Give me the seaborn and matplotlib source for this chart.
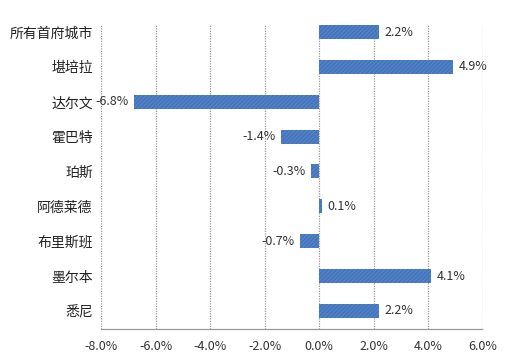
import matplotlib
matplotlib.use("Agg")
import matplotlib.pyplot as plt
import seaborn as sns
import pandas as pd

# Data
cities = ["所有首府城市", "堪培拉", "达尔文", "霍巴特", "珀斯", "阿德莱德", "布里斯班", "墨尔本", "悉尼"]
changes = [2.2, 4.9, -6.8, -1.4, -0.3, 0.1, -0.7, 4.1, 2.2]
x_ticks = [-8.0, -6.0, -4.0, -2.0, 0.0, 2.0, 4.0, 6.0]

df = pd.DataFrame({"city": cities, "change": changes})

sns.set_style("white")
plt.rcParams["font.family"] = ["Noto Sans CJK SC", "DejaVu Sans"]
plt.rcParams["hatch.linewidth"] = 0.5

fig = plt.figure(figsize=(5.11, 3.62), dpi=100)
ax = fig.add_axes([0.198, 0.0912, 0.747, 0.8425])

sns.barplot(data=df, x="change", y="city", orient="h", color="#4576bd",
            width=0.4, ax=ax, saturation=1, zorder=3)
for p in ax.patches:
    p.set_hatch("////////")
    p.set_edgecolor("#5d8ccc")
    p.set_linewidth(0)

# value labels
for i, v in enumerate(changes):
    if v >= 0:
        ax.text(v + 0.2, i, f"{v:.1f}%", va="center", ha="left", fontsize=9, color="#333333")
    else:
        ax.text(v - 0.2, i, f"{v:.1f}%", va="center", ha="right", fontsize=9, color="#333333")

ax.set_xlim(-8, 6)
ax.set_ylim(8.52, -0.23)
ax.set_xticks(x_ticks)
ax.set_xticklabels([f"{t:.1f}%" for t in x_ticks], fontsize=9, color="#333333")
ax.tick_params(axis="y", labelsize=10, length=0, pad=6, colors="#222222")
ax.tick_params(axis="x", length=4, width=0.8, color="#999999", direction="out", pad=4)
ax.set_xlabel("")
ax.set_ylabel("")

for t in x_ticks:
    ax.axvline(t, color="#999999", linestyle=(0, (1, 1)), linewidth=0.9, zorder=1)
for s in ["top", "right", "left"]:
    ax.spines[s].set_visible(False)
ax.spines["bottom"].set_color("#999999")
ax.spines["bottom"].set_linestyle((0, (1, 1)))
ax.spines["bottom"].set_linewidth(0.9)

plt.savefig("out.png", dpi=100)
